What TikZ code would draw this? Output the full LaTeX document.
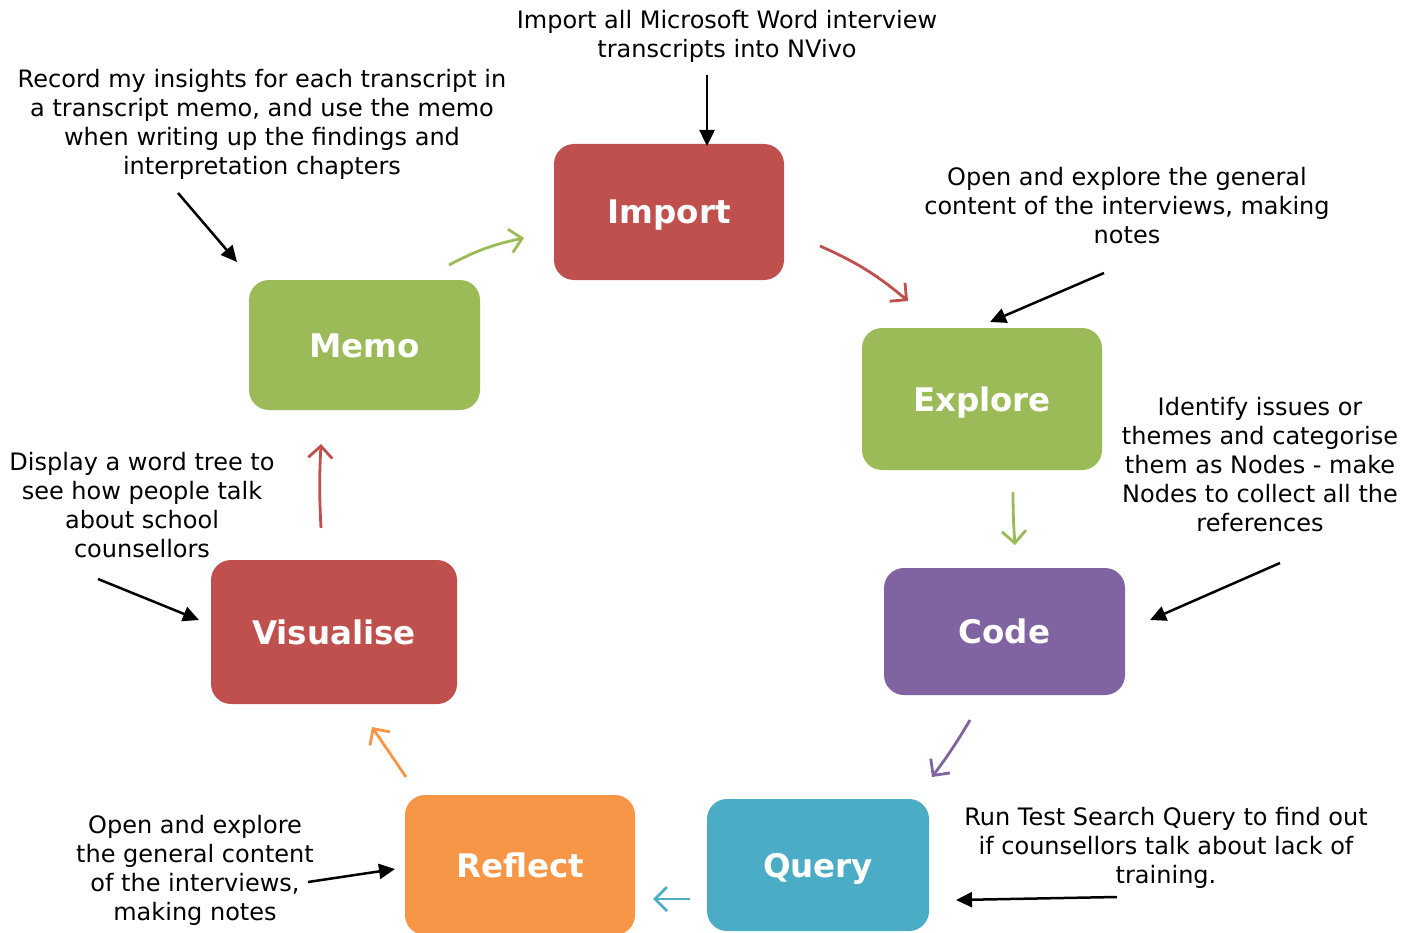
\documentclass[tikz,border=0pt]{standalone}
\usepackage{fontspec}
\setmainfont{DejaVu Sans}
\usetikzlibrary{arrows.meta}
\definecolor{cRed}{HTML}{C0504D}
\definecolor{cGreen}{HTML}{9BBB59}
\definecolor{cPurple}{HTML}{8064A2}
\definecolor{cTeal}{HTML}{4BACC6}
\definecolor{cOrange}{HTML}{F79646}
\tikzset{
  stage/.style={rounded corners=20pt, inner sep=0pt, text=white,
    text height=24pt, text depth=0pt,
    font=\fontsize{32.5}{36}\selectfont\bfseries},
  note/.style={align=center, inner sep=0pt, font=\fontsize{24}{29}\selectfont},
  pointer/.style={line width=2.5pt, -{Triangle[length=16pt,width=15pt]}},
  flow/.style={line width=2.8pt, -{Straight Barb[length=12pt,width=24pt]}}
}
\begin{document}
\begin{tikzpicture}[x=1pt,y=-1pt]
\useasboundingbox (0,0) rectangle (1415,933);
\begin{scope}
\clip (0,0) rectangle (1415,933);
% process stages
\node[stage, fill=cRed, minimum width=230pt, minimum height=136pt] (import) at (669,212) {Import};
\node[stage, fill=cGreen, minimum width=240pt, minimum height=142pt] (explore) at (982,399) {Explore};
\node[stage, fill=cPurple, minimum width=241pt, minimum height=127pt] (code) at (1004.5,631.5) {Code};
\node[stage, fill=cTeal, minimum width=222pt, minimum height=132pt] (query) at (818,865) {Query};
\node[stage, fill=cOrange, minimum width=230pt, minimum height=140pt] (reflect) at (520,865) {Reflect};
\node[stage, fill=cRed, minimum width=246pt, minimum height=144pt] (visualise) at (334,632) {Visualise};
\node[stage, fill=cGreen, minimum width=231pt, minimum height=130pt] (memo) at (364.5,345) {Memo};
\end{scope}

% descriptions
\node[note] (nImport) at (727,36) {Import all Microsoft Word interview\\transcripts into NVivo};
\node[note] (nMemo) at (262,124.5) {Record my insights for each transcript in\\a transcript memo, and use the memo\\when writing up the findings and\\interpretation chapters};
\node[note] (nExplore) at (1127,206) {Open and explore the general\\content of the interviews, making\\notes};
\node[note] (nCode) at (1260,465) {Identify issues or\\themes and categorise\\them as Nodes - make\\Nodes to collect all the\\references};
\node[note] (nQuery) at (1166,847.5) {Run Test Search Query to find out\\if counsellors talk about lack of\\training.};
\node[note] (nReflect) at (195,870) {Open and explore\\the general content\\of the interviews,\\making notes};
\node[note] (nVisualise) at (142,505.5) {Display a word tree to\\see how people talk\\about school\\counsellors};

% pointer end points
\coordinate (pImportA) at (707,75);   \coordinate (pImportB) at (707,146);
\coordinate (pMemoA) at (178,193);    \coordinate (pMemoB) at (237,262);
\coordinate (pExploreA) at (1104,273);\coordinate (pExploreB) at (990,322);
\coordinate (pCodeA) at (1280,563);   \coordinate (pCodeB) at (1150,620);
\coordinate (pQueryA) at (1117,897);  \coordinate (pQueryB) at (956,900);
\coordinate (pReflectA) at (308,882); \coordinate (pReflectB) at (395,869);
\coordinate (pVisA) at (98,579);      \coordinate (pVisB) at (199,620);

\draw[pointer] (pImportA) -- (pImportB);
\draw[pointer] (pMemoA) -- (pMemoB);
\draw[pointer] (pExploreA) -- (pExploreB);
\draw[pointer] (pCodeA) -- (pCodeB);
\draw[pointer] (pQueryA) -- (pQueryB);
\draw[pointer] (pReflectA) -- (pReflectB);
\draw[pointer] (pVisA) -- (pVisB);

% cycle arrows between stages
\coordinate (fMemoOut) at (449,265);     \coordinate (fImportIn) at (524,238);
\coordinate (fImportOut) at (820,246);   \coordinate (fExploreIn) at (908,301);
\coordinate (fExploreOut) at (1013,492); \coordinate (fCodeIn) at (1015,545);
\coordinate (fCodeOut) at (970,720);     \coordinate (fQueryIn) at (932,777);
\coordinate (fQueryOut) at (690,899);    \coordinate (fReflectIn) at (653,899);
\coordinate (fReflectOut) at (406,777);  \coordinate (fVisIn) at (372,727);
\coordinate (fVisOut) at (321,528);      \coordinate (fMemoIn) at (321,444);

\draw[flow, cGreen] (fMemoOut) to[bend left=8] (fImportIn);
\draw[flow, cRed] (fImportOut) to[bend left=8] (fExploreIn);
\draw[flow, cGreen] (fExploreOut) to[bend right=2] (fCodeIn);
\draw[flow, cPurple] (fCodeOut) to[bend left=3] (fQueryIn);
\draw[flow, cTeal] (fQueryOut) -- (fReflectIn);
\draw[flow, cOrange] (fReflectOut) -- (fVisIn);
\draw[flow, cRed] (fVisOut) to[bend left=3] (fMemoIn);
\end{tikzpicture}
\end{document}
